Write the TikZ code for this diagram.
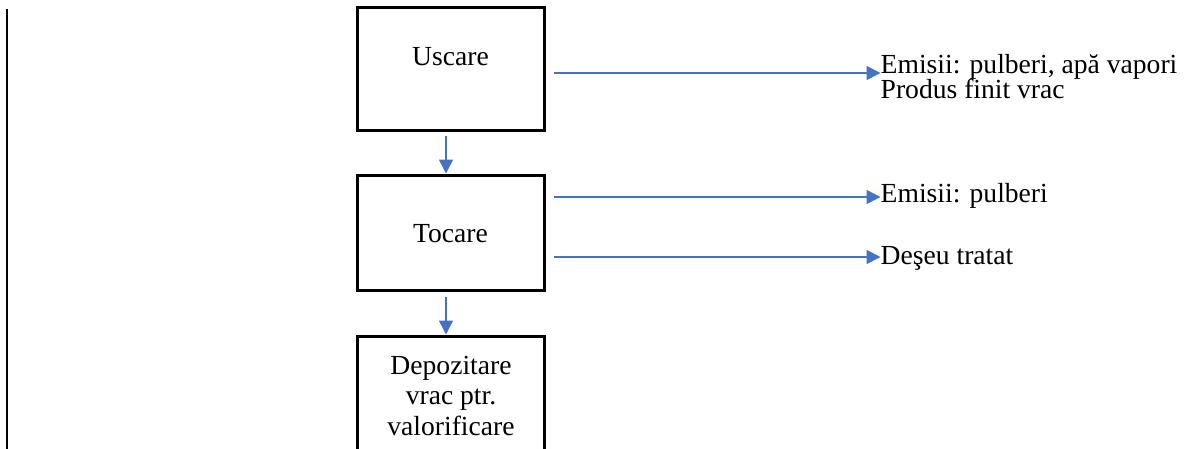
\documentclass[tikz,border=0pt]{standalone}
\usepackage{fontspec}
\setmainfont{Liberation Serif}
\usetikzlibrary{arrows.meta}
\definecolor{flowblue}{HTML}{4472C4}
\tikzset{
  stepbox/.style={draw=black, line width=3pt, rectangle, minimum width=187pt, inner sep=0pt},
  boxtext/.style={inner sep=0pt, font=\fontsize{27.6}{30.5}\selectfont, align=center},
  outtext/.style={inner sep=0pt, font=\fontsize{27.6}{25}\selectfont, anchor=base west},
  flow/.style={draw=flowblue, line width=1.6pt, -{Triangle[length=14pt,width=14pt]}}
}
\begin{document}
\begin{tikzpicture}[x=1pt,y=-1pt]
  \useasboundingbox (0,0) rectangle (1203,448);
  \clip (0,0) rectangle (1203,448);
  % left rule
  \draw[line width=2.2pt] (7,9) coordinate (ltop) -- (7,460) coordinate (lbot);

  % process boxes
  \node[stepbox, minimum height=123pt] (uscare) at (450.5,68.5) {};
  \node[boxtext] (uscaretxt) at (450.5,57) {Uscare};
  \node[stepbox, minimum height=115pt] (tocare) at (450.5,232.5) {};
  \node[boxtext] (tocaretxt) at (450.5,234) {Tocare};
  \node[stepbox, minimum height=124pt] (depo) at (450.5,398) {};
  \node[boxtext, anchor=base] (depotxt) at (451,435) {Depozitare\\vrac ptr.\\valorificare};

  % outputs
  \node[outtext] (out1) at (880.5,73.3) {Emisii: pulberi, apă vapori};
  \node[outtext] (out1b) at (880.5,98.3) {Produs finit vrac};
  \node[outtext] (out2) at (880.5,202.7) {Emisii: pulberi};
  \node[outtext] (out3) at (880.5,264) {Deşeu tratat};

  % vertical flow
  \draw[flow] ([yshift=-4pt]uscare.south -| 446,0) coordinate (v1) -- (v1 |- tocare.north);
  \draw[flow] ([yshift=-5pt]tocare.south -| 446,0) coordinate (v2) -- (v2 |- depo.north);

  % side outputs
  \draw[flow] ([shift={(8,4.5)}]uscare.east) coordinate (h1) -- (h1 -| out1.west);
  \draw[flow] ([shift={(8,-35.5)}]tocare.east) coordinate (h2) -- (h2 -| out2.west);
  \draw[flow] ([shift={(8,24.5)}]tocare.east) coordinate (h3) -- (h3 -| out3.west);
\end{tikzpicture}
\end{document}
